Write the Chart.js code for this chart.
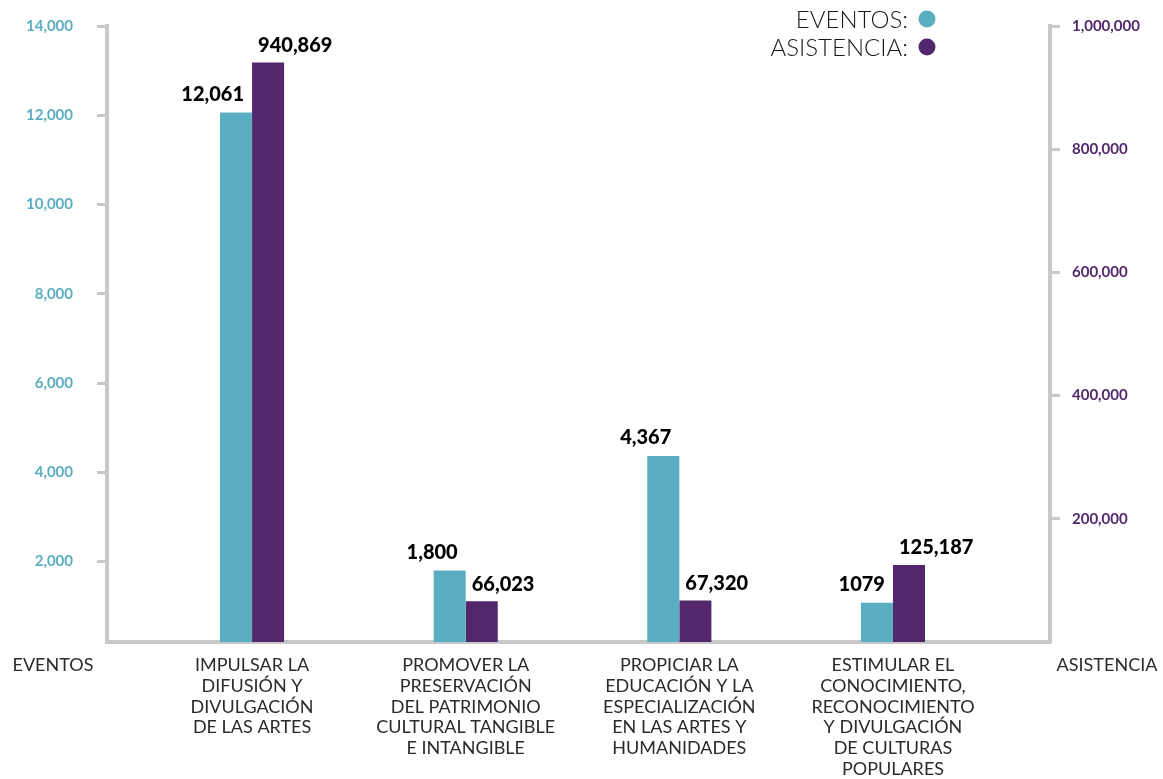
<!DOCTYPE html>
<html>
<head>
<meta charset="utf-8">
<script src="https://cdn.jsdelivr.net/npm/chart.js@4"></script>
<style>
  html, body { margin: 0; padding: 0; background: #fff; }
  #wrap { width: 1163px; height: 779px; }
</style>
</head>
<body>
<div id="wrap"><canvas id="chart" width="1163" height="779"></canvas></div>
<script>
const categories = [
  ["IMPULSAR LA", "DIFUSIÓN Y", "DIVULGACIÓN", "DE LAS ARTES"],
  ["PROMOVER LA", "PRESERVACIÓN", "DEL PATRIMONIO", "CULTURAL TANGIBLE", "E INTANGIBLE"],
  ["PROPICIAR LA", "EDUCACIÓN Y LA", "ESPECIALIZACIÓN", "EN LAS ARTES Y", "HUMANIDADES"],
  ["ESTIMULAR EL", "CONOCIMIENTO,", "RECONOCIMIENTO", "Y DIVULGACIÓN", "DE CULTURAS", "POPULARES"]
];
const eventos = [12061, 1800, 4367, 1079];
const asistencia = [940869, 66023, 67320, 125187];
const eventosLabels = ["12,061", "1,800", "4,367", "1079"];
const asistenciaLabels = ["940,869", "66,023", "67,320", "125,187"];
const eventosTicks = [2000, 4000, 6000, 8000, 10000, 12000, 14000];
const asistenciaTicks = [200000, 400000, 600000, 800000, 1000000];

const TEAL = "#5badc1";
const PURPLE = "#52276c";
const AXIS = "#c8c8c8";
const FONT = "Lato, 'Open Sans', sans-serif";

// labels over bars, bottom axis titles and the legend at top right
const extras = {
  id: "extras",
  afterDraw(chart) {
    const ctx = chart.ctx;
    ctx.save();
    ctx.fillStyle = "#000";
    ctx.font = "900 20px " + FONT;
    ctx.textBaseline = "middle";
    chart.getDatasetMeta(0).data.forEach((bar, i) => {
      ctx.textAlign = "right";
      ctx.fillText(eventosLabels[i], bar.x + 8, bar.y - 18);
    });
    chart.getDatasetMeta(1).data.forEach((bar, i) => {
      ctx.textAlign = "left";
      ctx.fillText(asistenciaLabels[i], bar.x - 10, bar.y - 17);
    });

    ctx.fillStyle = "#2b2b2b";
    ctx.font = "18px " + FONT;
    ctx.textAlign = "center";
    ctx.fillText("EVENTOS", 53, 665);
    ctx.fillText("ASISTENCIA", 1107, 665);

    ctx.fillStyle = "#1a1a1a";
    ctx.font = "300 24px " + FONT;
    ctx.textAlign = "right";
    ctx.fillText("EVENTOS:", 908, 20);
    ctx.fillText("ASISTENCIA:", 908, 48);
    ctx.fillStyle = TEAL;
    ctx.beginPath(); ctx.arc(927, 19, 8.5, 0, Math.PI * 2); ctx.fill();
    ctx.fillStyle = PURPLE;
    ctx.beginPath(); ctx.arc(927, 47, 8.5, 0, Math.PI * 2); ctx.fill();
    ctx.restore();
  }
};

// fixed widths, and no extra padding from the tick labels
function fitY(width) {
  return axis => {
    axis.width = width;
    axis.paddingTop = 0;
    axis.paddingBottom = 0;
  };
}

const ctx = document.getElementById("chart").getContext("2d");

let chart = new Chart(ctx, {
  type: "bar",
  data: {
    datasets: [
      {
        label: "EVENTOS",
        data: eventos.map((v, i) => ({ x: i, y: v })),
        backgroundColor: TEAL,
        yAxisID: "y",
        base: 200,
        categoryPercentage: 0.3,
        barPercentage: 1
      },
      {
        label: "ASISTENCIA",
        data: asistencia.map((v, i) => ({ x: i, y: v })),
        backgroundColor: PURPLE,
        yAxisID: "y2",
        categoryPercentage: 0.3,
        barPercentage: 1
      }
    ]
  },
  options: {
    responsive: false,
    animation: false,
    devicePixelRatio: 1,
    layout: { padding: { top: 26, left: 0, right: 0, bottom: 0 } },
    plugins: { legend: { display: false }, tooltip: { enabled: false } },
    scales: {
      x: {
        type: "linear",
        min: -0.679,
        max: 3.735,
        offset: false,
        afterBuildTicks: axis => { axis.ticks = categories.map((c, i) => ({ value: i })); },
        afterFit: axis => { axis.height = 137; },
        grid: { display: false, drawTicks: false },
        border: { display: true, color: AXIS, width: 4 },
        ticks: {
          autoSkip: false,
          maxRotation: 0,
          minRotation: 0,
          padding: 13,
          color: "#2b2b2b",
          font: { family: FONT, size: 18, weight: 400, lineHeight: 1.15 },
          callback: v => categories[v]
        }
      },
      y: {
        position: "left",
        min: 200,
        max: 14000,
        beginAtZero: false,
        afterBuildTicks: axis => { axis.ticks = eventosTicks.map(v => ({ value: v })); },
        afterFit: fitY(107),
        grid: { drawOnChartArea: false, tickLength: 10, tickWidth: 3, tickColor: AXIS },
        border: { display: true, color: AXIS, width: 4 },
        ticks: {
          padding: 24,
          color: TEAL,
          font: { family: FONT, size: 15, weight: "bold" },
          callback: v => v.toLocaleString("en-US")
        }
      },
      y2: {
        position: "right",
        min: 0,
        max: 1000000,
        afterBuildTicks: axis => { axis.ticks = asistenciaTicks.map(v => ({ value: v })); },
        afterFit: fitY(113),
        grid: { drawOnChartArea: false, tickLength: 10, tickWidth: 3, tickColor: AXIS },
        border: { display: true, color: AXIS, width: 4 },
        ticks: {
          padding: 12,
          color: PURPLE,
          font: { family: FONT, size: 15, weight: "bold" },
          callback: v => v.toLocaleString("en-US")
        }
      }
    }
  },
  plugins: [extras]
});
</script>
</body>
</html>
